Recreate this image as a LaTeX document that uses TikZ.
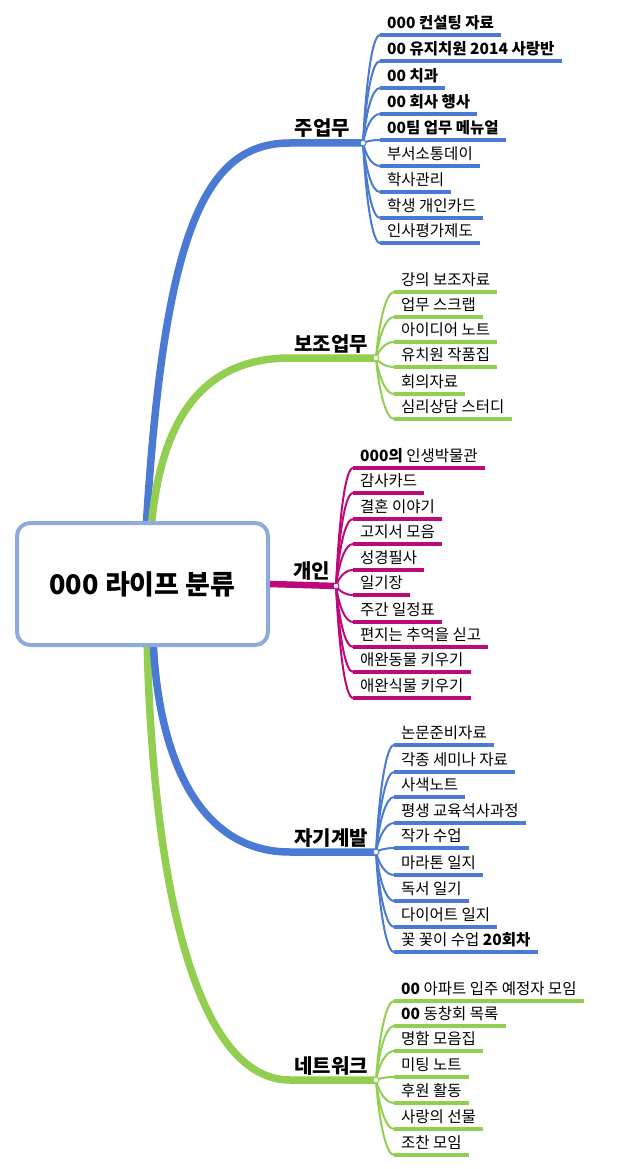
\documentclass[tikz,border=0pt]{standalone}
\usepackage{fontspec}
\setmainfont{Noto Sans CJK KR}
\usetikzlibrary{calc}
\definecolor{bluebr}{RGB}{74,122,212}
\definecolor{greenbr}{RGB}{146,206,80}
\definecolor{magbr}{RGB}{188,10,122}
\definecolor{rootbd}{RGB}{143,170,220}
\newcommand\brc{bluebr}
\newcommand\mleaf[5]{%
  \node[leaf,anchor=south west] (#1) at (#3-7,#4) {#5};
  \draw[twig] (#2) .. controls ($(#2)!0.55!(#2 |- #1.south west)+(3,0)$) and ($(#1.south west)+(-8,0)$) .. (#1.south west);
  \draw[uline] (#1.south west) -- (#1.south east);}
\begin{document}
\begin{tikzpicture}[x=1pt,y=-1pt,
  leaf/.style={inner xsep=7pt,inner ysep=6pt,text depth=0pt,font=\fontsize{15.5}{18}\selectfont},
  twig/.style={draw=\brc,line width=2pt},
  uline/.style={draw=\brc,line width=3.5pt},
  mainbr/.style={line width=7.5pt},
  mlabel/.style={inner sep=0pt,anchor=base east,font=\fontsize{20}{23}\bfseries},
  knot/.style={circle,fill=white,draw=#1,line width=1pt,inner sep=0pt,minimum size=6pt},
  rootbox/.style={draw=rootbd,line width=4pt,fill=white,rounded corners=13pt,minimum width=251pt,minimum height=122pt,font=\fontsize{27}{31}\bfseries}]
\useasboundingbox (0,0) rectangle (616,1169);
% dots (coordinates)
\coordinate (d1) at (363,143);
\coordinate (d2) at (376,358);
\coordinate (d3) at (336,586);
\coordinate (d4) at (376,852);
\coordinate (d5) at (376,1080);
\coordinate (s1) at (146,530);
\coordinate (s2) at (151,530);
\coordinate (s4) at (153,638);
\coordinate (s5) at (147,638);
% main branches
\draw[mainbr,bluebr] (s1) .. controls (164,230) and (205,143) .. (290,143) -- (d1);
\draw[mainbr,greenbr] (s2) .. controls (160,420) and (202,358) .. (290,358) -- (d2);
\draw[mainbr,greenbr] (s5) .. controls (153,900) and (200,1080) .. (290,1080) -- (d5);
\draw[mainbr,bluebr] (s4) .. controls (158,760) and (200,852) .. (290,852) -- (d4);
% root
\node[rootbox] (root) at (142.5,584) {000 라이프 분류};
\draw[line width=6.5pt,magbr] (root.east) -- (d3);
% labels
\node[mlabel] (m1) at (350,136) {주업무};
\node[mlabel] (m2) at (368,351) {보조업무};
\node[mlabel] (m3) at (330,578) {개인};
\node[mlabel] (m4) at (368,845) {자기계발};
\node[mlabel] (m5) at (368,1073) {네트워크};
% group 1
\renewcommand\brc{bluebr}
\mleaf{a1}{d1}{387}{35}{\bfseries 000 컨설팅 자료}
\mleaf{a2}{d1}{387}{61}{\bfseries 00 유지치원 2014 사랑반}
\mleaf{a3}{d1}{387}{88}{\bfseries 00 치과}
\mleaf{a4}{d1}{387}{114}{\bfseries 00 회사 행사}
\mleaf{a5}{d1}{387}{140}{\bfseries 00팀 업무 메뉴얼}
\mleaf{a6}{d1}{387}{166}{부서소통데이}
\mleaf{a7}{d1}{387}{192}{학사관리}
\mleaf{a8}{d1}{387}{218}{학생 개인카드}
\mleaf{a9}{d1}{387}{243}{인사평가제도}
\node[knot=bluebr] (k1) at (d1) {};
% group 2
\renewcommand\brc{greenbr}
\mleaf{b1}{d2}{401}{292}{강의 보조자료}
\mleaf{b2}{d2}{401}{317}{업무 스크랩}
\mleaf{b3}{d2}{401}{342}{아이디어 노트}
\mleaf{b4}{d2}{401}{367}{유치원 작품집}
\mleaf{b5}{d2}{401}{394}{회의자료}
\mleaf{b6}{d2}{401}{419}{심리상담 스터디}
\node[knot=greenbr] (k2) at (d2) {};
% group 3
\renewcommand\brc{magbr}
\mleaf{c1}{d3}{360}{468}{\textbf{000의} 인생박물관}
\mleaf{c2}{d3}{360}{493}{감사카드}
\mleaf{c3}{d3}{360}{519}{결혼 이야기}
\mleaf{c4}{d3}{360}{544}{고지서 모음}
\mleaf{c5}{d3}{360}{570}{성경필사}
\mleaf{c6}{d3}{360}{595}{일기장}
\mleaf{c7}{d3}{360}{622}{주간 일정표}
\mleaf{c8}{d3}{360}{647}{편지는 추억을 싣고}
\mleaf{c9}{d3}{360}{672}{애완동물 키우기}
\mleaf{c10}{d3}{360}{698}{애완식물 키우기}
\node[knot=magbr] (k3) at (d3) {};
% group 4
\renewcommand\brc{bluebr}
\mleaf{e1}{d4}{401}{745}{논문준비자료}
\mleaf{e2}{d4}{401}{772}{각종 세미나 자료}
\mleaf{e3}{d4}{401}{797}{사색노트}
\mleaf{e4}{d4}{401}{823}{평생 교육석사과정}
\mleaf{e5}{d4}{401}{848}{작가 수업}
\mleaf{e6}{d4}{401}{875}{마라톤 일지}
\mleaf{e7}{d4}{401}{901}{독서 일기}
\mleaf{e8}{d4}{401}{927}{다이어트 일지}
\mleaf{e9}{d4}{401}{952}{꽃 꽃이 수업 \textbf{20회차}}
\node[knot=bluebr] (k4) at (d4) {};
% group 5
\renewcommand\brc{greenbr}
\mleaf{f1}{d5}{401}{1001}{\textbf{00} 아파트 입주 예정자 모임}
\mleaf{f2}{d5}{401}{1026}{\textbf{00} 동창회 목록}
\mleaf{f3}{d5}{401}{1051}{명함 모음집}
\mleaf{f4}{d5}{401}{1077}{미팅 노트}
\mleaf{f5}{d5}{401}{1103}{후원 활동}
\mleaf{f6}{d5}{401}{1129}{사랑의 선물}
\mleaf{f7}{d5}{401}{1155}{조찬 모임}
\node[knot=greenbr] (k5) at (d5) {};
\end{tikzpicture}
\end{document}
